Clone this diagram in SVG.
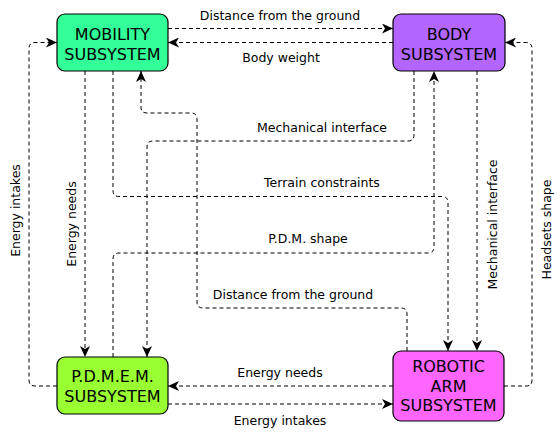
<svg xmlns="http://www.w3.org/2000/svg" width="560" height="434" viewBox="0 0 560 434">
<style>
.box{stroke:#000;stroke-width:1.2}
.bt{font-family:"DejaVu Sans",Verdana,sans-serif;font-size:16px;text-anchor:middle;fill:#000}
.lb{font-family:"DejaVu Sans",Verdana,sans-serif;font-size:12.5px;text-anchor:middle;fill:#000}
.c{fill:none;stroke:#000;stroke-width:1;stroke-dasharray:4 3}
</style>
<defs>
<marker id="ar" markerUnits="userSpaceOnUse" markerWidth="11" markerHeight="10" refX="11" refY="5" orient="auto">
<path d="M0,0 L11,5 L0,10 L3,5 z" fill="#000"/>
</marker>
</defs>
<rect width="560" height="434" fill="#fff"/>
<g id="connectors">
<path class="c" d="M168,28.5 H393" marker-end="url(#ar)"/>
<path class="c" d="M393,42.5 H168" marker-end="url(#ar)"/>
<path class="c" d="M57,386 H35 Q29,386 29,380 V48.5 Q29,42.5 35,42.5 H57" marker-end="url(#ar)"/>
<path class="c" d="M85,71 V357" marker-end="url(#ar)"/>
<path class="c" d="M113,71 V190.5 Q113,196.5 119,196.5 H442 Q448,196.5 448,202.5 V351" marker-end="url(#ar)"/>
<path class="c" d="M414,71 V135 Q414,141 408,141 H153 Q147,141 147,147 V357" marker-end="url(#ar)"/>
<path class="c" d="M407,351 V314 Q407,308 401,308 H203 Q197,308 197,302 V119 Q197,113 191,113 H147 Q141,113 141,107 V71" marker-end="url(#ar)"/>
<path class="c" d="M113,357 V259 Q113,253 119,253 H428 Q434,253 434,247 V71" marker-end="url(#ar)"/>
<path class="c" d="M477,71 V351" marker-end="url(#ar)"/>
<path class="c" d="M504,386 H526 Q532,386 532,380 V48.5 Q532,42.5 526,42.5 H505" marker-end="url(#ar)"/>
<path class="c" d="M393,386 H168" marker-end="url(#ar)"/>
<path class="c" d="M168,404 H393" marker-end="url(#ar)"/>
<text class="lb" x="280" y="20">Distance from the ground</text>
<text class="lb" x="281" y="62">Body weight</text>
<text class="lb" x="322" y="132">Mechanical interface</text>
<text class="lb" x="322" y="187">Terrain constraints</text>
<text class="lb" x="308" y="243">P.D.M. shape</text>
<text class="lb" x="293" y="299">Distance from the ground</text>
<text class="lb" x="280" y="377">Energy needs</text>
<text class="lb" x="280" y="425">Energy intakes</text>
<text class="lb" transform="translate(20,210.5) rotate(-90)">Energy intakes</text>
<text class="lb" transform="translate(76,224) rotate(-90)">Energy needs</text>
<text class="lb" transform="translate(497,224.5) rotate(-90)">Mechanical interface</text>
<text class="lb" transform="translate(551,229.5) rotate(-90)">Headsets shape</text>
</g>
<g id="mobility">
<rect class="box" x="57" y="14" width="111" height="57" rx="8" fill="#33FF99"/>
<text class="bt" x="112.5" y="40">MOBILITY</text>
<text class="bt" x="112.5" y="59.5">SUBSYSTEM</text>
</g>
<g id="body">
<rect class="box" x="393" y="14" width="112" height="57" rx="8" fill="#B266FF"/>
<text class="bt" x="449" y="40">BODY</text>
<text class="bt" x="449" y="59.5">SUBSYSTEM</text>
</g>
<g id="pdmem">
<rect class="box" x="57" y="357" width="111" height="57" rx="8" fill="#99FF33"/>
<text class="bt" x="112.5" y="382">P.D.M.E.M.</text>
<text class="bt" x="112.5" y="401.5">SUBSYSTEM</text>
</g>
<g id="robotic">
<rect class="box" x="393" y="351" width="111" height="70" rx="8" fill="#FF66FF"/>
<text class="bt" x="448.5" y="372">ROBOTIC</text>
<text class="bt" x="448.5" y="391.5">ARM</text>
<text class="bt" x="448.5" y="411">SUBSYSTEM</text>
</g>
</svg>
